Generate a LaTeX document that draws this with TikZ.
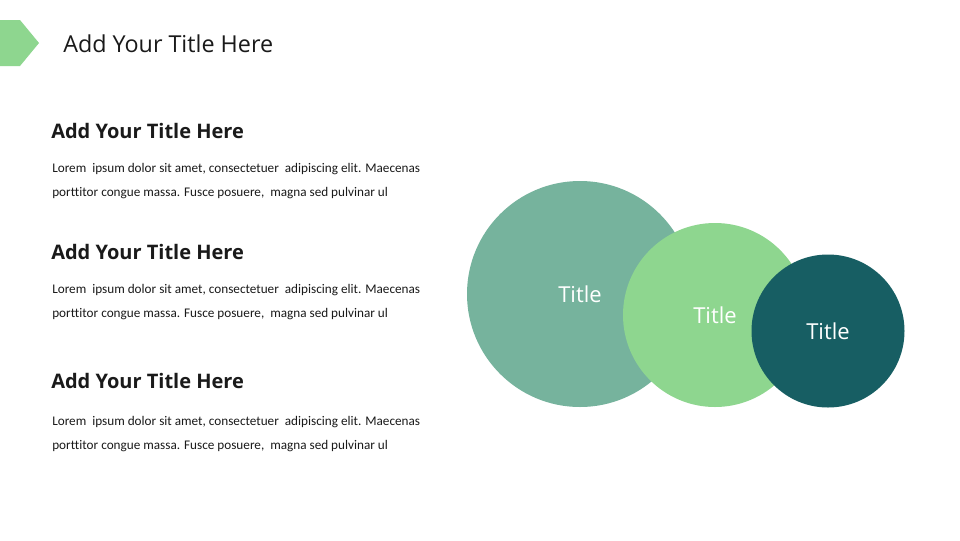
\documentclass[tikz,border=0pt]{standalone}
\usepackage{fontspec}
\setmainfont{Open Sans}
\newfontfamily\bodyfont[Ligatures=NoCommon]{Carlito}
\definecolor{sagegreen}{HTML}{76B39D}
\definecolor{mintgreen}{HTML}{8ED68F}
\definecolor{deepteal}{HTML}{175E63}
\definecolor{inkgray}{HTML}{1A1A1A}
\tikzset{
  headtext/.style={anchor=base west, inner sep=0pt, text=inkgray, font=\fontsize{15}{18}\selectfont\bfseries},
  bodytext/.style={anchor=base west, inner sep=0pt, text=inkgray, font=\bodyfont\fontsize{9.9}{12}\selectfont},
  bubble/.style={circle, draw=none, inner sep=0pt, text=white, font=\fontsize{16.5}{19}\selectfont}
}
\begin{document}
\begin{tikzpicture}[x=0.75pt, y=-0.75pt]
  \useasboundingbox[fill=white] (0,0) rectangle (960,540);
  % header tab and slide title
  \fill[mintgreen] (0,20) -- (20,20) -- (39,43) -- (20,66) -- (0,66) -- cycle;
  \node[anchor=base west, inner sep=0pt, text=inkgray, font=\fontsize{17.5}{21}\selectfont] (slidetitle) at (63,52) {Add Your Title Here};
  % three text blocks
  \foreach \i/\yh/\yb in {1/138/172, 2/259/293, 3/388/425}{
    \node[headtext] (head\i) at (51,\yh) {Add Your Title Here};
    \node[bodytext] (bodya\i) at (52,\yb) {Lorem\ \ ipsum dolor sit amet, consectetuer\ \ adipiscing elit. Maecenas};
    \node[bodytext] (bodyb\i) at (52,\yb+24) {porttitor congue massa. Fusce posuere,\ \ magna sed pulvinar ul};
  }
  % overlapping circles
  \node[bubble, fill=sagegreen, minimum size=226*0.75pt] (bigc) at (580,294) {Title};
  \node[bubble, fill=mintgreen, minimum size=184*0.75pt] (midc) at (715,315) {Title};
  \node[bubble, fill=deepteal, minimum size=153*0.75pt] (smallc) at (828,331) {Title};
\end{tikzpicture}
\end{document}
